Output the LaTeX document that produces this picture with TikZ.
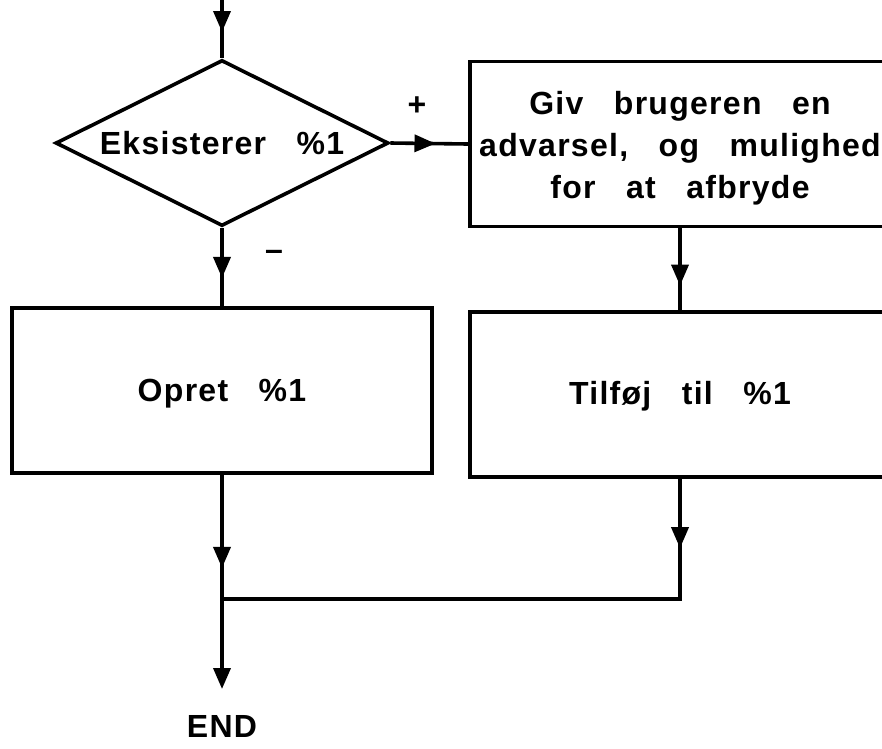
\documentclass[tikz,border=0pt]{standalone}
\usepackage{fontspec}
\setmainfont{Liberation Sans}[BoldFeatures={LetterSpace=4,WordSpace=3}]
\usetikzlibrary{shapes.geometric,arrows.meta,decorations.markings}
\begin{document}
\begin{tikzpicture}[x=1pt,y=-1pt,
  line width=3.6pt,
  font=\fontsize{32}{42}\selectfont\bfseries,
  tip/.tip={Triangle[length=21pt,width=17pt]},
  flow/.style={draw, line join=miter},
  midarrow/.style={postaction={decorate},
    decoration={markings, mark=at position #1 with {\arrow{tip}}}},
  decision/.style={diamond, draw, aspect=2, minimum width=333pt, minimum height=166pt,
    inner sep=0pt, align=center},
  action/.style={rectangle, draw, minimum width=420pt, minimum height=165pt,
    inner sep=0pt, align=center},
  boxtext/.style={align=center, inner sep=0pt}]
  \useasboundingbox (0,0) rectangle (882,748);
  \clip (0,0) rectangle (882,748);

  % nodes
  \coordinate (start) at (222,0);
  \node[decision] (test) at (222,143) {Eksisterer \%1};
  \node[action] (warn) at (680,144) {};
  \node[boxtext] (warntext) at ([yshift=-4pt]warn.center)
    {Giv brugeren en\\advarsel, og mulighed\\for at afbryde};
  \node[action] (create) at (222,390.5) {};
  \node[boxtext] (createtext) at ([yshift=-3pt]create.center) {Opret \%1};
  \node[action] (append) at (680,394.5) {};
  \node[boxtext] (appendtext) at ([yshift=-2pt]append.center) {Tilføj til \%1};
  \coordinate (join) at (222,599);
  \coordinate (joinr) at (680,599);
  \node (end) at (222,726) {END};

  % branch labels
  \node (plus) at (417,106) {+};
  \node (minus) at (274,255) {--};

  % connectors
  \draw[flow, midarrow=0.55] (start) -- (test.north);
  \draw[flow, midarrow=0.58] (test.east) -- (warn.west);
  \draw[flow, midarrow=0.64] (test.south) -- (create.north);
  \draw[flow, midarrow=0.70] (warn.south) -- (append.north);
  \draw[flow, midarrow=0.75] (create.south) -- (join);
  \draw[flow, midarrow=0.12] (append.south) -- (joinr) -- (join);
  \draw[flow, -{tip}] (join) -- (222,689) coordinate (endtip);
\end{tikzpicture}
\end{document}
